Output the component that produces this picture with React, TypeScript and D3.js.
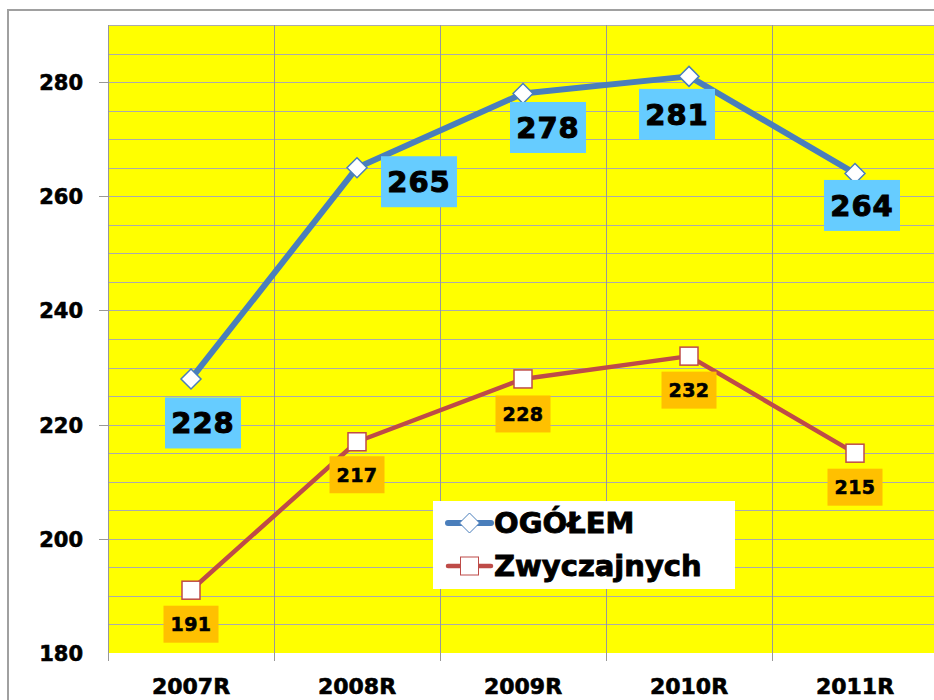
import React, { useEffect, useRef } from 'react';
import * as d3 from 'd3';

// Chart data
const categories = ['2007R', '2008R', '2009R', '2010R', '2011R'];
const ogolem = [228, 265, 278, 281, 264];
const zwyczajnych = [191, 217, 228, 232, 215];
const seriesNames = ['OGÓŁEM', 'Zwyczajnych'];

// Manual data-label nudges (dx, dy from the point), like Excel hand placement
const blueLabelShift = [[12, 44], [62, 14], [25, 34], [-12, 38], [7, 32]];
const orangeLabelShift = [[0, 34], [0, 33], [0, 35], [0, 34], [0, 34]];

const FONT = '"DejaVu Sans", "Liberation Sans", sans-serif';

export default function App() {
  const ref = useRef<SVGSVGElement | null>(null);

  useEffect(() => {
    const svgEl = ref.current;
    if (!svgEl) return;
    const svg = d3.select(svgEl);
    svg.selectAll('*').remove();

    const W = 934;
    const H = 700;
    const left = 108;
    const band = 166;
    const top = 25;
    const bottom = 653;

    const x = d3.scaleBand<string>().domain(categories).range([left, left + band * categories.length]);
    const y = d3.scaleLinear().domain([180, 290]).range([bottom, top]);
    const cx = (c: string) => (x(c) || 0) + x.bandwidth() / 2;

    // heavy black text helper (mimics Arial Black look)
    const heavy = (sel: d3.Selection<SVGTextElement, unknown, null, undefined>, sw: number) =>
      sel.attr('font-family', FONT)
        .attr('font-weight', 'bold')
        .attr('fill', '#000')
        .attr('stroke', '#000')
        .attr('stroke-width', sw)
        .attr('paint-order', 'stroke');

    // outer frame
    svg.append('rect').attr('width', W).attr('height', H).attr('fill', '#fff');
    svg.append('path')
      .attr('d', `M8,${H + 5}V10H${W + 5}`)
      .attr('fill', 'none')
      .attr('stroke', '#a0a0a0')
      .attr('stroke-width', 2);

    // plot area
    svg.append('rect')
      .attr('x', left)
      .attr('y', top)
      .attr('width', band * categories.length)
      .attr('height', bottom - top)
      .attr('fill', '#ffff00');

    // horizontal gridlines every 5
    const grid = svg.append('g');
    d3.range(185, 291, 5).forEach((v) => {
      grid.append('line')
        .attr('x1', left).attr('x2', left + band * 5)
        .attr('y1', Math.round(y(v)) + 0.5).attr('y2', Math.round(y(v)) + 0.5)
        .attr('stroke', '#ababab').attr('stroke-width', 1);
    });
    // vertical gridlines at category boundaries (with tick below)
    d3.range(0, categories.length + 1).forEach((i) => {
      const xx = left + i * band + 0.5;
      grid.append('line')
        .attr('x1', xx).attr('x2', xx)
        .attr('y1', top).attr('y2', bottom + 8)
        .attr('stroke', '#989898').attr('stroke-width', 1);
    });

    // y axis ticks + labels
    const yAxis = svg.append('g');
    d3.range(180, 281, 20).forEach((v) => {
      const yy = Math.round(y(v)) + 0.5;
      if (v > 180) {
        yAxis.append('line')
          .attr('x1', left - 9).attr('x2', left)
          .attr('y1', yy).attr('y2', yy)
          .attr('stroke', '#989898');
      }
      heavy(yAxis.append('text'), 0.6)
        .attr('x', 83)
        .attr('y', yy)
        .attr('dy', '0.36em')
        .attr('text-anchor', 'end')
        .attr('font-size', 21)
        .text(v);
    });

    // x labels
    categories.forEach((c) => {
      heavy(svg.append('text'), 0.6)
        .attr('x', cx(c))
        .attr('y', 694)
        .attr('text-anchor', 'middle')
        .attr('font-size', 22)
        .text(c);
    });

    const line = d3.line<number>()
      .x((_, i) => cx(categories[i]))
      .y((d) => y(d));

    // lines
    svg.append('path')
      .datum(ogolem)
      .attr('d', line)
      .attr('fill', 'none')
      .attr('stroke', '#4a7ebb')
      .attr('stroke-width', 6)
      .attr('stroke-linejoin', 'round');
    svg.append('path')
      .datum(zwyczajnych)
      .attr('d', line)
      .attr('fill', 'none')
      .attr('stroke', '#be4b48')
      .attr('stroke-width', 4.5)
      .attr('stroke-linejoin', 'round');

    // markers
    const diamond = (px: number, py: number, r: number) =>
      `M${px},${py - r}L${px + r},${py}L${px},${py + r}L${px - r},${py}Z`;
    ogolem.forEach((v, i) => {
      svg.append('path')
        .attr('d', diamond(cx(categories[i]), y(v), 10))
        .attr('fill', '#fff')
        .attr('stroke', '#4a7ebb')
        .attr('stroke-width', 1.5);
    });
    zwyczajnych.forEach((v, i) => {
      svg.append('rect')
        .attr('x', cx(categories[i]) - 9)
        .attr('y', y(v) - 9)
        .attr('width', 18)
        .attr('height', 18)
        .attr('fill', '#fff')
        .attr('stroke', '#be4b48')
        .attr('stroke-width', 1.5);
    });

    // data labels
    const label = (
      px: number, py: number, w: number, h: number,
      bg: string, fs: number, sw: number, txt: string
    ) => {
      const g = svg.append('g').attr('transform', `translate(${px},${py})`);
      g.append('rect')
        .attr('x', -w / 2).attr('y', -h / 2)
        .attr('width', w).attr('height', h)
        .attr('fill', bg);
      heavy(g.append('text'), sw)
        .attr('text-anchor', 'middle')
        .attr('dy', '0.36em')
        .attr('font-size', fs)
        .attr('letter-spacing', fs > 24 ? 1 : 0.5)
        .text(txt);
    };
    ogolem.forEach((v, i) => {
      const [dx, dy] = blueLabelShift[i];
      label(cx(categories[i]) + dx, y(v) + dy, 76, 51, '#66ccff', 29, 1, String(v));
    });
    zwyczajnych.forEach((v, i) => {
      const [dx, dy] = orangeLabelShift[i];
      label(cx(categories[i]) + dx, y(v) + dy, 55, 37, '#ffc000', 19, 0.6, String(v));
    });

    // legend
    const lg = svg.append('g').attr('transform', 'translate(433,501)');
    lg.append('rect').attr('width', 302).attr('height', 88).attr('fill', '#fff');
    const legendRows = [
      { name: seriesNames[0], color: '#4a7ebb', width: 6, marker: 'diamond', yy: 22 },
      { name: seriesNames[1], color: '#be4b48', width: 4.5, marker: 'square', yy: 65 },
    ];
    legendRows.forEach((r) => {
      lg.append('line')
        .attr('x1', 15).attr('x2', 58)
        .attr('y1', r.yy).attr('y2', r.yy)
        .attr('stroke', r.color)
        .attr('stroke-width', r.width)
        .attr('stroke-linecap', 'round');
      if (r.marker === 'diamond') {
        lg.append('path')
          .attr('d', diamond(36.5, r.yy, 10))
          .attr('fill', '#fff')
          .attr('stroke', r.color)
          .attr('stroke-width', 1);
      } else {
        lg.append('rect')
          .attr('x', 27.5).attr('y', r.yy - 9)
          .attr('width', 18).attr('height', 18)
          .attr('fill', '#fff')
          .attr('stroke', r.color)
          .attr('stroke-width', 1);
      }
      heavy(lg.append('text'), 0.9)
        .attr('x', 61)
        .attr('y', r.yy + 10)
        .attr('font-size', 29)
        .text(r.name);
    });
  }, []);

  return (
    <svg
      ref={ref}
      width={934}
      height={700}
      style={{ position: 'absolute', left: 0, top: 0, display: 'block' }}
    />
  );
}
